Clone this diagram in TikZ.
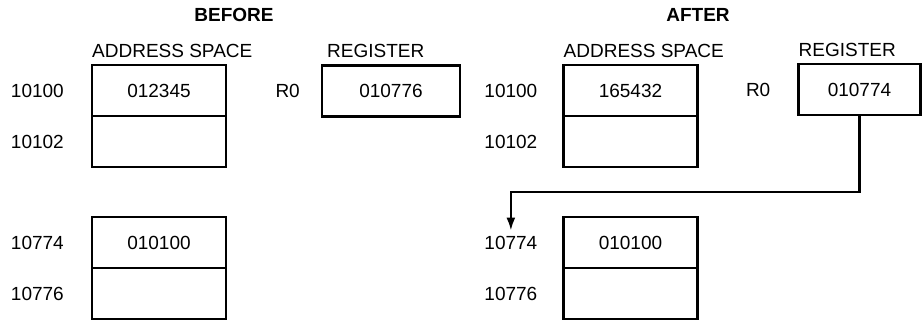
\documentclass[tikz,border=0pt]{standalone}
\usepackage{fontspec}
\setmainfont{Liberation Sans}
\usetikzlibrary{positioning, arrows.meta}

\begin{document}
\begin{tikzpicture}[x=1pt, y=-1pt, >={Latex[length=13pt, width=9pt]},
    every node/.style={font=\fontsize{19}{22}\selectfont},
    cell/.style={draw, line width=2.6pt, minimum width=134pt, minimum height=51pt,
        inner sep=0pt, outer sep=0pt},
    reg/.style={cell, minimum width=138pt},
    addr/.style={inner sep=0pt},
    title/.style={anchor=base west, inner sep=0pt},
    head/.style={font=\fontsize{19}{22}\selectfont\bfseries}]
    \useasboundingbox (0,0) rectangle (922,322);

    % Trạng thái trước
    \node[head] (before) at (234,15) {BEFORE};
    \node[cell] (a1) at (159,90.5) {012345};
    \node[cell, below=0pt of a1] (a2) {};
    \node[cell] (a3) at (159,242.5) {010100};
    \node[cell, below=0pt of a3] (a4) {};
    \node[title] (asp1) at ([yshift=8pt]a1.north west) {ADDRESS SPACE};

    % Địa chỉ bên trái
    \node[addr, left=28pt of a1] (b1) {10100};
    \node[addr, left=28pt of a2] (b2) {10102};
    \node[addr, left=28pt of a3] (b3) {10774};
    \node[addr, left=28pt of a4] (b4) {10776};

    % Thanh ghi trước
    \node[reg] (r1) at (391,91) {010776};
    \node[addr, left=22pt of r1] (rn1) {R0};
    \node[title] (rh1) at ([xshift=5pt, yshift=8pt]r1.north west) {REGISTER};

    % Trạng thái sau
    \node[head] (after) at (698,15) {AFTER};
    \node[cell] (c1) at (630.5,90.5) {165432};
    \node[cell, below=0pt of c1] (c2) {};
    \node[cell] (c3) at (630.5,242.5) {010100};
    \node[cell, below=0pt of c3] (c4) {};
    \node[title] (asp2) at ([yshift=8pt]c1.north west) {ADDRESS SPACE};

    % Địa chỉ bên phải
    \node[addr, left=26pt of c1] (d1) {10100};
    \node[addr, left=26pt of c2] (d2) {10102};
    \node[addr, left=26pt of c3] (d3) {10774};
    \node[addr, left=26pt of c4] (d4) {10776};

    % Thanh ghi sau
    \node[reg, minimum width=122pt] (r2) at (859.5,89.5) {010774};
    \node[addr, left=28pt of r2] (rn2) {R0};
    \node[title] (rh2) at ([yshift=8pt]r2.north west) {REGISTER};

    % Mũi tên từ thanh ghi tới ô nhớ
    \draw[->, line width=2.2pt] (r2.south) -- ++(0,77) -| ([yshift=5pt]d3.north);
\end{tikzpicture}
\end{document}
